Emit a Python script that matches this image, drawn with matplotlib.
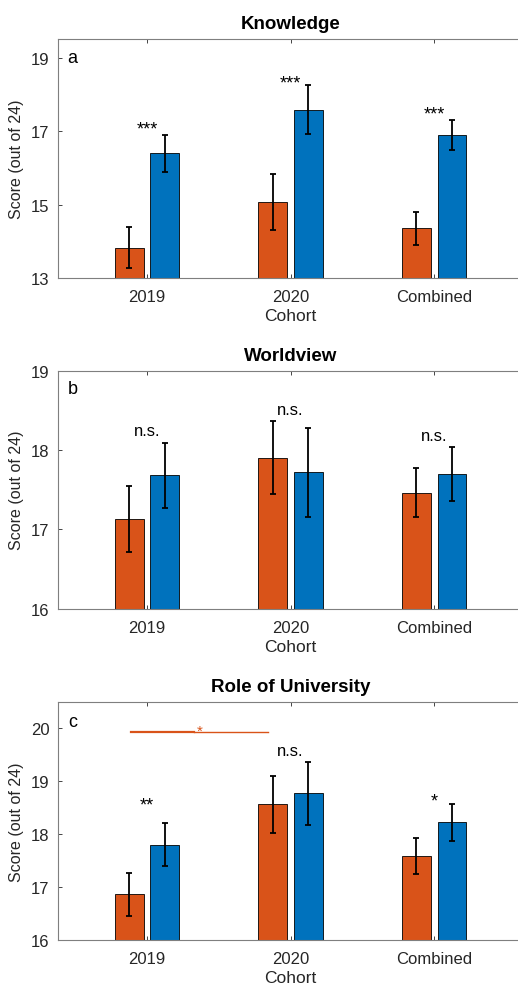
import numpy as np
import matplotlib.pyplot as plt

plt.rcParams['font.family'] = ['Liberation Sans', 'DejaVu Sans']

cohorts = ['2019', '2020', 'Combined']

# Knowledge
know_pre = [13.82, 15.07, 14.35]
know_pre_err = [0.56, 0.75, 0.46]
know_post = [16.40, 17.58, 16.90]
know_post_err = [0.50, 0.67, 0.41]
know_sig = ['***', '***', '***']
know_sig_y = [17.05, 18.30, 17.46]

# Worldview
world_pre = [17.13, 17.90, 17.46]
world_pre_err = [0.42, 0.46, 0.31]
world_post = [17.68, 17.72, 17.70]
world_post_err = [0.41, 0.56, 0.34]
world_sig = ['n.s.', 'n.s.', 'n.s.']
world_sig_y = [18.24, 18.51, 18.18]

# Role of University
role_pre = [16.86, 18.56, 17.58]
role_pre_err = [0.41, 0.53, 0.34]
role_post = [17.80, 18.77, 18.22]
role_post_err = [0.41, 0.60, 0.35]
role_sig = ['**', 'n.s.', '*']
role_sig_y = [18.55, 19.57, 18.62]

orange = '#D95319'
blue = '#0072BD'
gray = '#262626'

panels = [
    ('Knowledge', 'a', know_pre, know_pre_err, know_post, know_post_err,
     know_sig, know_sig_y, (13, 19.5), [13, 15, 17, 19], 19.0),
    ('Worldview', 'b', world_pre, world_pre_err, world_post, world_post_err,
     world_sig, world_sig_y, (16, 19), [16, 17, 18, 19], 18.77),
    ('Role of University', 'c', role_pre, role_pre_err, role_post, role_post_err,
     role_sig, role_sig_y, (16, 20.5), [16, 17, 18, 19, 20], 20.13),
]

positions = [
    [0.112, 0.7173, 0.898, 0.2418],
    [0.112, 0.3823, 0.898, 0.2411],
    [0.112, 0.0466, 0.898, 0.2414],
]

fig = plt.figure(figsize=(5.18, 9.87), dpi=100)
x = np.arange(1, 4)
w = 0.2
off = 0.124

for pos, (title, letter, pre, pre_err, post, post_err, sig, sig_y, ylim, yticks, ly) in zip(positions, panels):
    ax = fig.add_axes(pos)
    ax.bar(x - off, pre, w, color=orange, edgecolor='k', linewidth=0.6, zorder=2)
    ax.bar(x + off, post, w, color=blue, edgecolor='k', linewidth=0.6, zorder=2)
    ax.errorbar(x - off, pre, yerr=pre_err, fmt='none', ecolor='k',
                elinewidth=1.3, capsize=2.2, capthick=1.3, zorder=3)
    ax.errorbar(x + off, post, yerr=post_err, fmt='none', ecolor='k',
                elinewidth=1.3, capsize=2.2, capthick=1.3, zorder=3)
    for xi, s, sy in zip(x, sig, sig_y):
        fs = 12 if s == 'n.s.' else 13
        ax.text(xi, sy, s, ha='center', va='center', fontsize=fs, color='k')
    ax.set_xlim(0.38, 3.62)
    ax.set_ylim(*ylim)
    ax.set_yticks(yticks)
    ax.set_xticks(x)
    ax.set_xticklabels(cohorts)
    ax.tick_params(direction='in', length=3, width=0.6, colors=gray,
                   labelsize=12, top=True, right=True, pad=6)
    ax.tick_params(axis='x', pad=8)
    for sp in ax.spines.values():
        sp.set_color('#7f7f7f')
        sp.set_linewidth(0.8)
    ax.set_xlabel('Cohort', fontsize=12.5, color=gray, labelpad=3)
    ax.set_ylabel('Score (out of 24)', fontsize=11.5, color=gray, labelpad=5)
    ax.set_title(title, fontsize=13.5, fontweight='bold', pad=8)
    ax.text(0.48, ly, letter, fontsize=13, ha='center', va='center', color='k')

    if letter == 'c':
        ax.plot([0.889, 1.33], [19.92, 19.92], color=orange, lw=1.6, zorder=4)
        ax.plot([1.33, 1.84], [19.92, 19.92], color=orange, lw=1.0, zorder=4)
        ax.text(1.365, 19.96, '*', fontsize=11, color=orange, ha='center', va='center')

fig.savefig('out.png', dpi=100)
